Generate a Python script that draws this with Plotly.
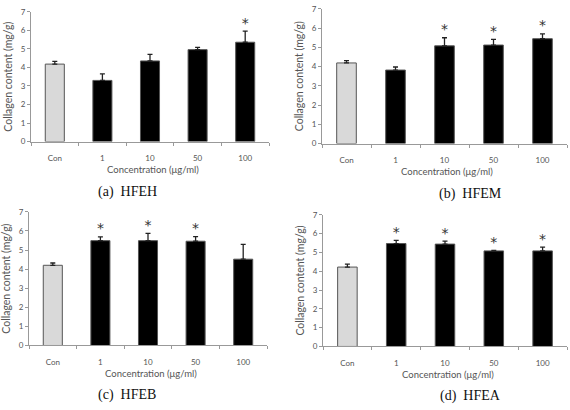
import plotly.graph_objects as go

categories = ["Con", "1", "10", "50", "100"]
y_ticks = [0, 1, 2, 3, 4, 5, 6, 7]

hfeh_values = [4.18, 3.30, 4.35, 4.96, 5.36]
hfeh_errors = [0.15, 0.35, 0.36, 0.12, 0.60]
hfeh_sig = [False, False, False, False, True]

hfem_values = [4.19, 3.82, 5.08, 5.12, 5.45]
hfem_errors = [0.12, 0.16, 0.42, 0.30, 0.25]
hfem_sig = [False, False, True, True, True]

hfeb_values = [4.20, 5.49, 5.49, 5.46, 4.52]
hfeb_errors = [0.12, 0.20, 0.38, 0.24, 0.78]
hfeb_sig = [False, True, True, True, False]

hfea_values = [4.22, 5.47, 5.44, 5.08, 5.08]
hfea_errors = [0.16, 0.17, 0.16, 0.02, 0.20]
hfea_sig = [False, True, True, True, True]

captions = ["(a)  HFEH", "(b)  HFEM", "(c)  HFEB", "(d)  HFEA"]
x_title = "Concentration (μg/ml)"
y_title = "Collagen content (mg/g)"

W, H = 570, 410
# plot areas in pixels: (left, right, top(y=7), bottom(y=0))
areas = [
    (31, 269, 7, 140),
    (322, 567, 4, 142),
    (29, 267, 212, 349),
    (323, 567, 215, 350),
]
caption_pos = [(127, 192), (470, 194), (127, 400), (470, 401)]

panels = [
    (hfeh_values, hfeh_errors, hfeh_sig),
    (hfem_values, hfem_errors, hfem_sig),
    (hfeb_values, hfeb_errors, hfeb_sig),
    (hfea_values, hfea_errors, hfea_sig),
]

fig = go.Figure()
annotations = []
layout = {}
tick_font = dict(family="Lato", size=8, color="#555555")
xtitle_font = dict(family="Lato", size=9.5, color="#555555")
ytitle_font = dict(family="Lato", size=10.5, color="#555555")

for i, ((vals, errs, sig), (l, r, t, b)) in enumerate(zip(panels, areas)):
    n = "" if i == 0 else str(i + 1)
    xa, ya = "x" + n, "y" + n
    colors = ["#d9d9d9"] + ["#000000"] * (len(categories) - 1)
    fig.add_trace(go.Bar(
        x=categories, y=vals, xaxis=xa, yaxis=ya,
        marker=dict(color=colors, line=dict(color="#555555", width=1)),
        width=0.4,
        error_y=dict(type="data", symmetric=False, array=errs,
                     arrayminus=[0] * len(errs), color="#222222",
                     thickness=1.3, width=2.5),
        showlegend=False,
    ))
    sx = [c for c, s in zip(categories, sig) if s]
    sy = [v + e for v, e, s in zip(vals, errs, sig) if s]
    fig.add_trace(go.Scatter(
        x=sx, y=sy, xaxis=xa, yaxis=ya, mode="text", text=["*"] * len(sx),
        textposition="top center",
        textfont=dict(family="DejaVu Sans", size=14, color="#333333"),
        showlegend=False,
    ))
    layout["xaxis" + n] = dict(
        domain=[l / W, r / W], anchor=ya, type="category",
        range=[-0.5, 4.5], showline=True, linecolor="#999999", linewidth=1,
        ticks="outside", tickson="boundaries", ticklen=3, tickcolor="#999999",
        ticklabelstandoff=9,
        tickfont=tick_font, showgrid=False, zeroline=False, fixedrange=True,
    )
    layout["yaxis" + n] = dict(
        domain=[1 - b / H, 1 - t / H], anchor=xa, range=[0, 7],
        tickvals=y_ticks, showline=True, linecolor="#999999", linewidth=1,
        ticks="outside", ticklen=3, tickcolor="#999999",
        tickfont=tick_font, showgrid=False, zeroline=False, fixedrange=True,
    )
    annotations.append(dict(
        text=x_title, x=(l + (r - l) * 0.5) / W + 0.005, y=1 - (b + 29) / H,
        xref="paper", yref="paper", showarrow=False, font=xtitle_font,
        xanchor="center", yanchor="middle",
    ))
    annotations.append(dict(
        text=y_title, x=(l - 23) / W, y=1 - (t + b) / 2 / H,
        xref="paper", yref="paper", showarrow=False, font=ytitle_font,
        textangle=-90, xanchor="center", yanchor="middle",
    ))
    cx, cy = caption_pos[i]
    annotations.append(dict(
        text=captions[i], x=cx / W, y=1 - cy / H,
        xref="paper", yref="paper", showarrow=False,
        font=dict(family="Liberation Serif", size=14, color="#111111"),
        xanchor="center", yanchor="middle",
    ))

fig.update_layout(
    width=W, height=H, margin=dict(l=0, r=0, t=0, b=0),
    paper_bgcolor="white", plot_bgcolor="white",
    annotations=annotations, **layout,
)
fig.write_html("out.html")
